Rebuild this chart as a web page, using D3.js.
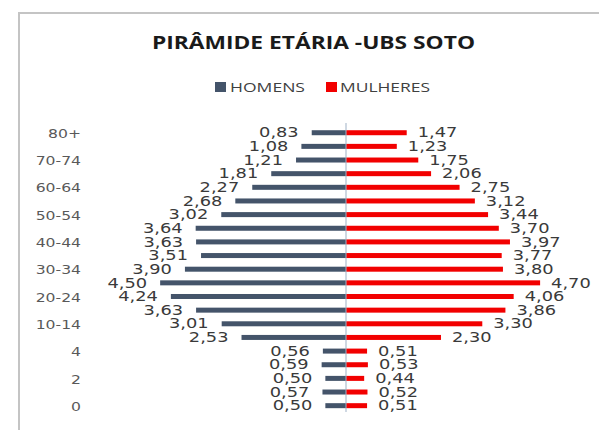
<!DOCTYPE html>
<html>
<head>
<meta charset="utf-8">
<script src="https://cdn.jsdelivr.net/npm/d3@7"></script>
<style>
  body { margin: 0; background: #fff; }
  svg { display: block; }
</style>
</head>
<body>
<div id="chart"></div>
<script>
// Age groups, bottom to top
var ageGroups = ["0", "1", "2", "3", "4", "5-9", "10-14", "15-19", "20-24", "25-29", "30-34",
  "35-39", "40-44", "45-49", "50-54", "55-59", "60-64", "65-69", "70-74", "75-79", "80+"];

// Percent of population per group
var homens = [0.50, 0.57, 0.50, 0.59, 0.56, 2.53, 3.01, 3.63, 4.24, 4.50, 3.90,
  3.51, 3.63, 3.64, 3.02, 2.68, 2.27, 1.81, 1.21, 1.08, 0.83];
var mulheres = [0.51, 0.52, 0.44, 0.53, 0.51, 2.30, 3.30, 3.86, 4.06, 4.70, 3.80,
  3.77, 3.97, 3.70, 3.44, 3.12, 2.75, 2.06, 1.75, 1.23, 1.47];

var seriesNames = ["HOMENS", "MULHERES"];
var colors = ["#44546a", "#f20000"];

var width = 599, height = 430;
var svg = d3.select("#chart").append("svg")
  .attr("width", width)
  .attr("height", height);

// Chart area border (only top and left visible)
svg.append("path")
  .attr("d", "M19,432V13H601")
  .attr("fill", "none")
  .attr("stroke", "#c4c4c4")
  .attr("stroke-width", 2);

// Title
svg.append("text")
  .attr("x", 152)
  .attr("y", 49)
  .attr("textLength", 323)
  .attr("lengthAdjust", "spacingAndGlyphs")
  .style("font-family", "'Open Sans', sans-serif")
  .style("font-weight", "bold")
  .style("font-size", "17px")
  .style("fill", "#1a1a1a")
  .text("PIRÂMIDE ETÁRIA -UBS SOTO");

// Legend
var legendPos = [{sq: 215, tx: 230, len: 75}, {sq: 326, tx: 340, len: 90}];
seriesNames.forEach(function(name, i) {
  var p = legendPos[i];
  svg.append("rect")
    .attr("x", p.sq)
    .attr("y", 82)
    .attr("width", 11)
    .attr("height", 10)
    .attr("fill", colors[i]);
  svg.append("text")
    .attr("x", p.tx)
    .attr("y", 92)
    .attr("textLength", p.len)
    .attr("lengthAdjust", "spacingAndGlyphs")
    .style("font-family", "'Open Sans', sans-serif")
    .style("font-size", "13px")
    .style("fill", "#404040")
    .text(name);
});

// Scales
var center = 346;
var unit = 41.3;
var xRight = d3.scaleLinear().domain([0, 5]).range([center, center + 5 * unit]);
var xLeft = d3.scaleLinear().domain([0, 5]).range([center, center - 5 * unit]);

var y = d3.scalePoint()
  .domain(ageGroups.slice().reverse())
  .range([125.9, 412.5])
  .padding(0.5);

var barH = 5;

// Men bars
svg.append("g").selectAll("rect")
  .data(homens)
  .enter().append("rect")
  .attr("x", function(d) { return xLeft(d); })
  .attr("y", function(d, i) { return y(ageGroups[i]) - barH / 2; })
  .attr("width", function(d) { return center - xLeft(d); })
  .attr("height", barH)
  .attr("fill", colors[0]);

// Women bars
svg.append("g").selectAll("rect")
  .data(mulheres)
  .enter().append("rect")
  .attr("x", center)
  .attr("y", function(d, i) { return y(ageGroups[i]) - barH / 2; })
  .attr("width", function(d) { return xRight(d) - center; })
  .attr("height", barH)
  .attr("fill", colors[1]);

// Center axis line
svg.append("line")
  .attr("x1", center).attr("x2", center)
  .attr("y1", 123).attr("y2", 412)
  .attr("stroke", "#9fb1c6")
  .attr("stroke-width", 1);

// Value labels
var fmt = function(v) { return v.toFixed(2).replace(".", ","); };
var labelStyle = function(sel) {
  sel.style("font-family", "'DejaVu Sans', Verdana, sans-serif")
    .style("font-size", "13.5px")
    .style("fill", "#3a3a3a")
    .attr("dominant-baseline", "central");
};

svg.append("g").selectAll("text")
  .data(homens)
  .enter().append("text")
  .attr("transform", function(d, i) {
    return "translate(" + (xLeft(d) - 13) + "," + y(ageGroups[i]) + ") scale(1.32,1)";
  })
  .attr("text-anchor", "end")
  .call(labelStyle)
  .text(fmt);

svg.append("g").selectAll("text")
  .data(mulheres)
  .enter().append("text")
  .attr("transform", function(d, i) {
    return "translate(" + (xRight(d) + 11) + "," + y(ageGroups[i]) + ") scale(1.32,1)";
  })
  .attr("text-anchor", "start")
  .call(labelStyle)
  .text(fmt);

// Category axis, every other label
var yAxis = d3.axisLeft(y)
  .tickValues(ageGroups.filter(function(d, i) { return i % 2 === 0; }))
  .tickSize(0)
  .tickPadding(0);

var axisG = svg.append("g")
  .attr("transform", "translate(81,0)")
  .call(yAxis);

axisG.select(".domain").remove();
axisG.selectAll("text")
  .attr("x", 0)
  .attr("dy", "0.36em")
  .attr("transform", "scale(1.2,1)")
  .style("font-family", "'DejaVu Sans', Verdana, sans-serif")
  .style("font-size", "13px")
  .style("fill", "#595959");
</script>
</body>
</html>
